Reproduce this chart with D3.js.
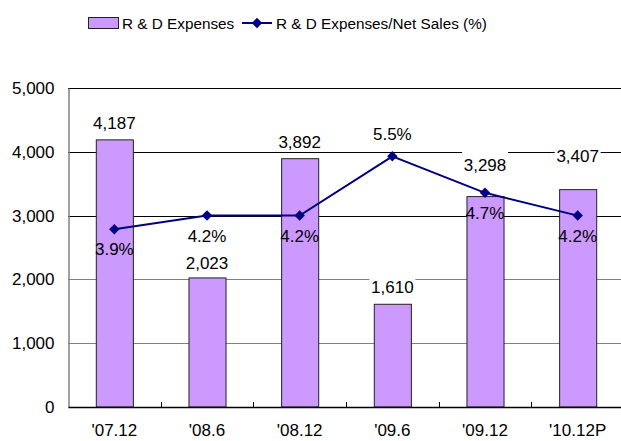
<!DOCTYPE html>
<html>
<head>
<meta charset="utf-8">
<script src="https://d3js.org/d3.v7.min.js"></script>
<style>
  body { margin: 0; background: #fff; }
  text { font-family: "Liberation Sans", Arial, sans-serif; fill: #000; }
</style>
</head>
<body>
<div id="chart"></div>
<script>
// data
let periods = ["'07.12", "'08.6", "'08.12", "'09.6", "'09.12", "'10.12P"];
let expenses = [4187, 2023, 3892, 1610, 3298, 3407];
let ratio = [3.9, 4.2, 4.2, 5.5, 4.7, 4.2];
let yTicks = [0, 1000, 2000, 3000, 4000, 5000];

// label placement (pixels above bar top / ratio label side)
let valueLift = [11, 9, 11, 11, 26, 28];
let ratioAbove = [false, false, false, true, false, false];

let width = 621, height = 441;
let margin = {top: 88, right: -3, bottom: 34, left: 68};

let svg = d3.select("#chart")
    .append("svg")
    .attr("width", width)
    .attr("height", height);

let x = d3.scaleBand()
    .domain(periods)
    .range([margin.left, width - margin.right])
    .paddingInner(0.6)
    .paddingOuter(0.3);

let y = d3.scaleLinear()
    .domain([0, 5000])
    .range([height - margin.bottom, margin.top]);

// hidden secondary axis for the ratio line
let y2 = d3.scaleLinear()
    .domain([0, 7])
    .range([height - margin.bottom, margin.top]);

let fmt = d3.format(",");

// gridlines
svg.append("g")
    .selectAll("line")
    .data(yTicks.filter(d => d > 0))
    .enter().append("line")
    .attr("x1", margin.left)
    .attr("x2", width)
    .attr("y1", d => Math.round(y(d)) + 0.5)
    .attr("y2", d => Math.round(y(d)) + 0.5)
    .attr("stroke", d => d >= 3000 ? "#000" : "#808080")
    .attr("stroke-width", 1);

// left axis
let yAxis = svg.append("g")
    .attr("transform", "translate(" + (margin.left + 0.5) + ",0)")
    .call(d3.axisLeft(y).tickValues(yTicks).tickFormat(fmt).tickSize(0).tickPadding(14));
yAxis.select(".domain").attr("stroke", "#808080").attr("stroke-width", 1.5);
yAxis.selectAll("text")
    .style("font-size", "17px")
    .style("font-family", "'Liberation Sans', Arial, sans-serif");

// bars
svg.append("g")
    .selectAll("rect")
    .data(expenses)
    .enter().append("rect")
    .attr("x", (d, i) => x(periods[i]) + 0.5)
    .attr("y", d => y(d))
    .attr("width", x.bandwidth())
    .attr("height", d => y(0) - y(d))
    .attr("fill", "#CC99FF")
    .attr("stroke", "#222")
    .attr("stroke-width", 1);

// bottom axis
let xAxis = svg.append("g")
    .attr("transform", "translate(0," + (y(0)) + ")")
    .call(d3.axisBottom(x).tickSize(0).tickPadding(17));
xAxis.select(".domain").attr("stroke", "#000").attr("stroke-width", 1.5);
xAxis.selectAll("text")
    .style("font-size", "17px")
    .style("font-family", "'Liberation Sans', Arial, sans-serif");

// category divider ticks
svg.append("g")
    .selectAll("line")
    .data(periods.slice(1))
    .enter().append("line")
    .attr("x1", d => Math.round(x(d) - x.bandwidth() * 0.75) + 0.5)
    .attr("x2", d => Math.round(x(d) - x.bandwidth() * 0.75) + 0.5)
    .attr("y1", y(0) - 5)
    .attr("y2", y(0))
    .attr("stroke", "#000");

// value labels with white backing
let valLabels = svg.append("g")
    .selectAll("g")
    .data(expenses)
    .enter().append("g")
    .attr("transform", (d, i) => "translate(" + (x(periods[i]) + x.bandwidth() / 2) + "," + (y(d) - valueLift[i]) + ")");

valLabels.append("rect")
    .attr("x", -23)
    .attr("y", -20)
    .attr("width", 46)
    .attr("height", 24)
    .attr("fill", "#fff");

valLabels.append("text")
    .attr("text-anchor", "middle")
    .style("font-size", "17px")
    .text(d => fmt(d));

// ratio line
let line = d3.line()
    .x((d, i) => x(periods[i]) + x.bandwidth() / 2)
    .y(d => y2(d));

svg.append("path")
    .datum(ratio)
    .attr("d", line)
    .attr("fill", "none")
    .attr("stroke", "#000080")
    .attr("stroke-width", 2);

svg.append("g")
    .selectAll("path")
    .data(ratio)
    .enter().append("path")
    .attr("d", d3.symbol().type(d3.symbolDiamond2).size(70))
    .attr("transform", (d, i) => "translate(" + (x(periods[i]) + x.bandwidth() / 2) + "," + y2(d) + ")")
    .attr("fill", "#000080");

svg.append("g")
    .selectAll("text")
    .data(ratio)
    .enter().append("text")
    .attr("x", (d, i) => x(periods[i]) + x.bandwidth() / 2)
    .attr("y", (d, i) => ratioAbove[i] ? y2(d) - 16 : y2(d) + 26)
    .attr("text-anchor", "middle")
    .style("font-size", "17px")
    .text(d => d.toFixed(1) + "%");

// legend
let legend = svg.append("g").attr("transform", "translate(0,23)");

legend.append("rect")
    .attr("x", 88.5)
    .attr("y", -5.5)
    .attr("width", 30)
    .attr("height", 11)
    .attr("fill", "#CC99FF")
    .attr("stroke", "#222");

legend.append("text")
    .attr("x", 122)
    .attr("y", 6)
    .style("font-size", "15.3px")
    .text("R & D Expenses");

legend.append("line")
    .attr("x1", 242)
    .attr("x2", 272)
    .attr("y1", 0)
    .attr("y2", 0)
    .attr("stroke", "#000080")
    .attr("stroke-width", 2);

legend.append("path")
    .attr("d", d3.symbol().type(d3.symbolDiamond2).size(70))
    .attr("transform", "translate(257,0)")
    .attr("fill", "#000080");

legend.append("text")
    .attr("x", 276)
    .attr("y", 6)
    .style("font-size", "15.3px")
    .text("R & D Expenses/Net Sales (%)");
</script>
</body>
</html>
